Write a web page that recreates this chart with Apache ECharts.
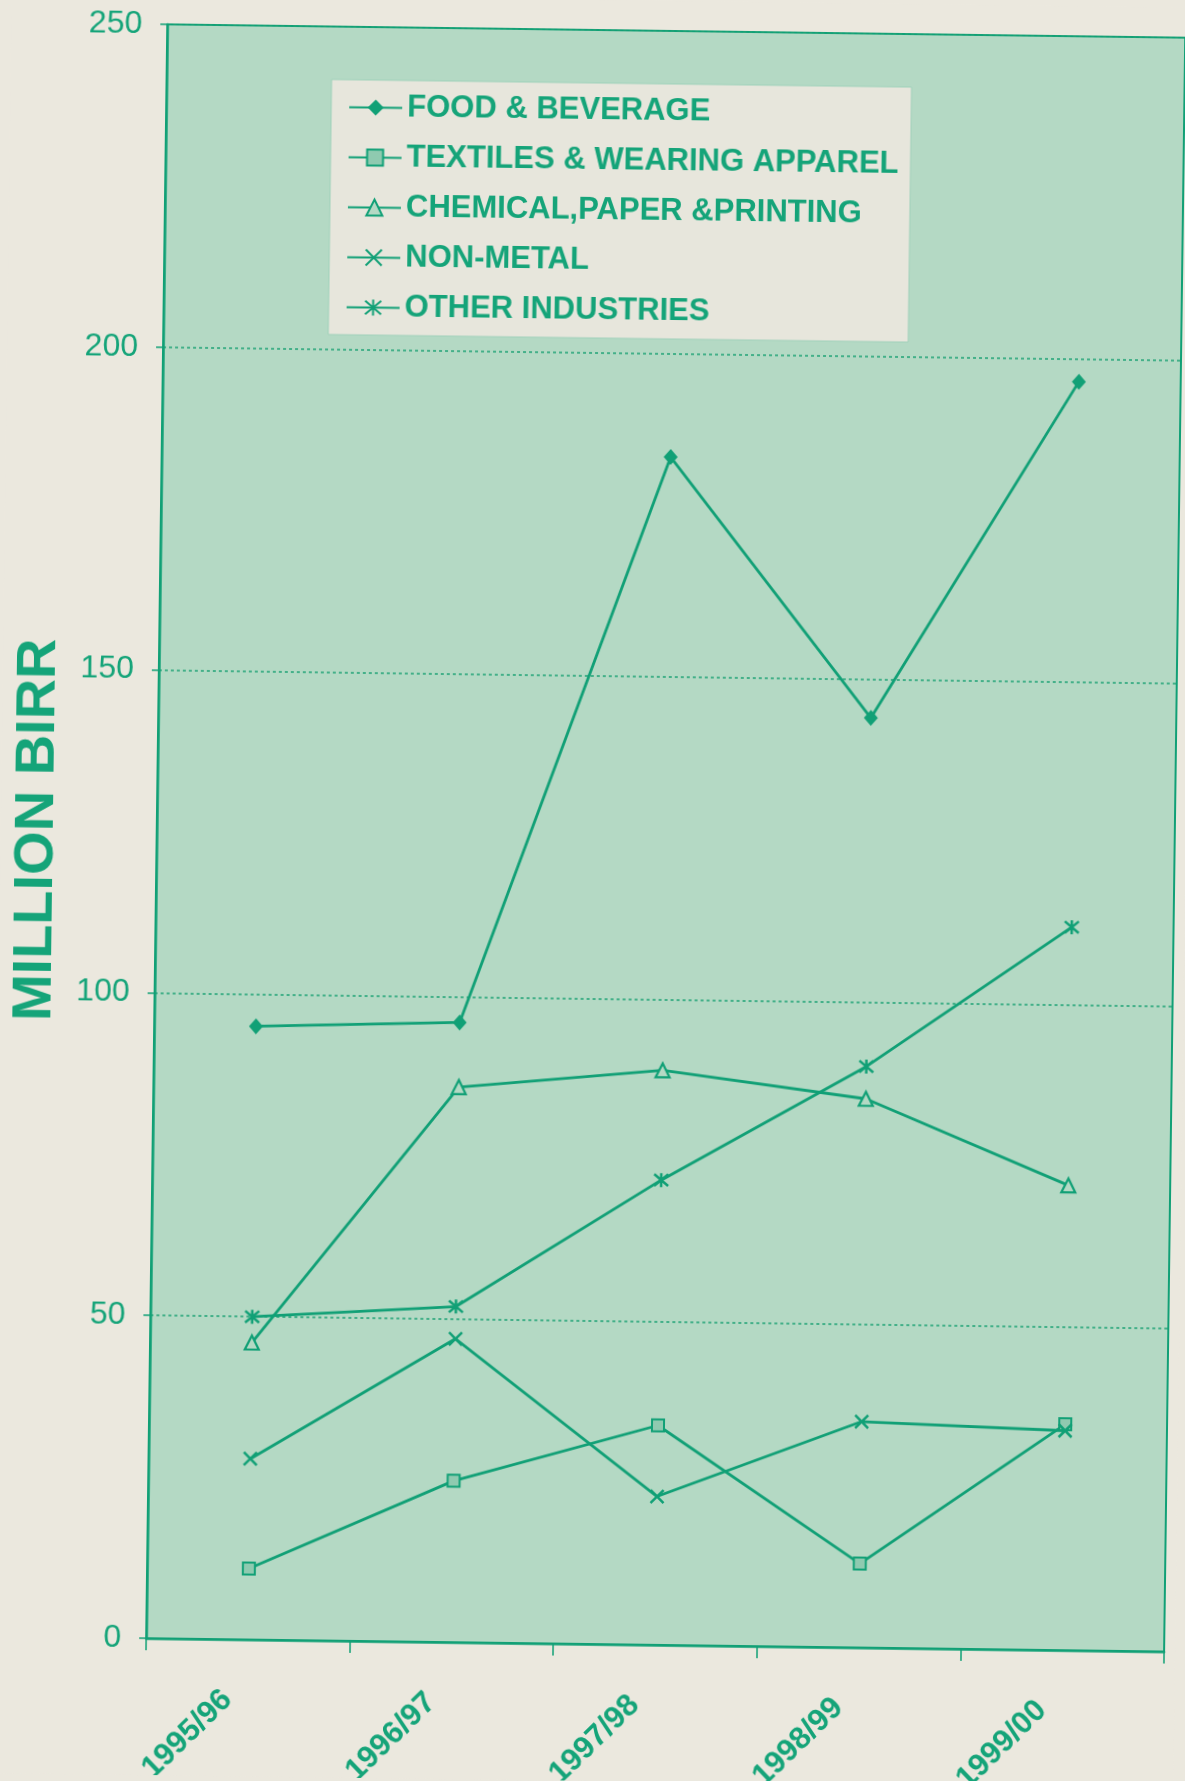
<!DOCTYPE html>
<html>
<head>
<meta charset="utf-8">
<script src="https://cdn.jsdelivr.net/npm/echarts@6/dist/echarts.min.js"></script>
<style>
  html, body { margin: 0; padding: 0; background: #ebe8de; width: 1185px; height: 1781px; overflow: hidden; }
  #wrap { width: 1185px; height: 1781px; overflow: hidden; position: relative; }
  #chart { width: 1185px; height: 1781px; transform: rotate(0.75deg); transform-origin: 50% 50%; }
</style>
</head>
<body>
<div id="wrap"><div id="chart"></div></div>
<script>
const categories = ['1995/96', '1996/97', '1997/98', '1998/99', '1999/00'];
const foodBeverage = [95, 96, 184, 144, 196.5];
const textilesApparel = [11, 25, 34, 13, 35];
const chemicalPaper = [46, 86, 89, 85, 72];
const nonMetal = [28, 47, 23, 35, 34];
const otherIndustries = [50, 52, 72, 90, 112];
const seriesNames = ['FOOD & BEVERAGE', 'TEXTILES & WEARING APPAREL', 'CHEMICAL,PAPER &PRINTING', 'NON-METAL', 'OTHER INDUSTRIES'];
const yMin = 0, yMax = 250, yStep = 50;
const yAxisTitle = 'MILLION BIRR';

const GREEN = '#11a076';
const TEXT = '#15a479';
const PLOTBG = '#b4d9c4';
const FONT = '"Liberation Sans", Arial, sans-serif';

function lineSeries(name, data, symbol, size, itemStyle) {
  return {
    name: name, type: 'line', data: data,
    symbol: symbol, symbolSize: size,
    lineStyle: { color: GREEN, width: 2.8 },
    itemStyle: itemStyle,
    emphasis: { disabled: true }
  };
}

const chart = echarts.init(document.getElementById('chart'));
chart.setOption({
  backgroundColor: '#ebe8de',
  animation: false,
  grid: {
    left: 156, right: 11, top: 30, bottom: 137,
    containLabel: false, outerBoundsMode: 'none',
    show: true, backgroundColor: PLOTBG, borderColor: GREEN, borderWidth: 2
  },
  legend: {
    orient: 'vertical', left: 321, top: 83,
    data: seriesNames,
    backgroundColor: '#e7e6dc', borderColor: '#9fd1ba', borderWidth: 1,
    padding: [12, 12, 12, 17],
    itemWidth: 53, itemHeight: 20, itemGap: 19,
    textStyle: { color: TEXT, fontFamily: FONT, fontWeight: 'bold', fontSize: 31, lineHeight: 31 }
  },
  xAxis: {
    type: 'category', data: categories, boundaryGap: true,
    axisLine: { lineStyle: { color: GREEN, width: 2.5 } },
    axisTick: { show: true, length: 12, lineStyle: { color: GREEN, width: 1.5 } },
    axisLabel: { rotate: 45, margin: 36, padding: [0, 28, 0, 0], color: TEXT, fontFamily: FONT, fontWeight: 'bold', fontSize: 31 },
    splitLine: { show: false }
  },
  yAxis: {
    type: 'value', min: yMin, max: yMax, interval: yStep,
    name: yAxisTitle, nameLocation: 'middle', nameGap: 91, nameRotate: 90,
    nameTextStyle: { color: TEXT, fontFamily: FONT, fontWeight: 'bold', fontSize: 56 },
    axisLine: { show: true, lineStyle: { color: GREEN, width: 2.5 } },
    axisTick: { show: true, length: 7, lineStyle: { color: GREEN, width: 1.5 } },
    axisLabel: { margin: 25, color: TEXT, fontFamily: FONT, fontSize: 32 },
    splitLine: { show: true, lineStyle: { color: '#1fa276', width: 1.5, type: [3, 3] } }
  },
  series: [
    lineSeries(seriesNames[0], foodBeverage, 'diamond', [14, 16], { color: GREEN }),
    lineSeries(seriesNames[1], textilesApparel, 'rect', 12, { color: '#8fcab0', borderColor: GREEN, borderWidth: 2 }),
    lineSeries(seriesNames[2], chemicalPaper, 'triangle', 14, { color: PLOTBG, borderColor: GREEN, borderWidth: 2.2 }),
    lineSeries(seriesNames[3], nonMetal, 'path://M0,0L10,10M10,0L0,10', 13, { color: 'none', borderColor: GREEN, borderWidth: 2.5 }),
    lineSeries(seriesNames[4], otherIndustries, 'path://M0,0L10,10M10,0L0,10M5,-1L5,11', 14, { color: 'none', borderColor: GREEN, borderWidth: 2.5 })
  ]
});
</script>
</body>
</html>
